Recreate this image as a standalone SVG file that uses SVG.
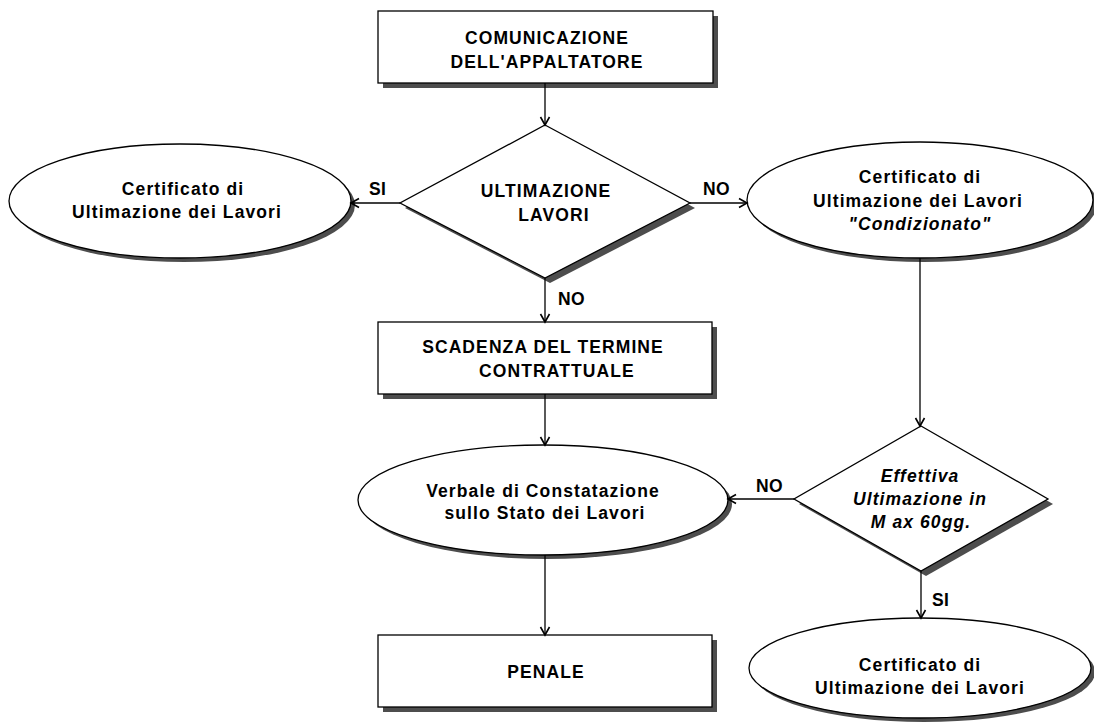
<svg xmlns="http://www.w3.org/2000/svg" width="1094" height="726" viewBox="0 0 1094 726">
  <defs>
    <marker id="arrow" markerWidth="12" markerHeight="12" refX="9" refY="6" orient="auto" markerUnits="userSpaceOnUse">
      <path d="M1,1.5 L9,6 L1,10.5" fill="none" stroke="#000" stroke-width="1.6"/>
    </marker>
  </defs>
  <style>
    .shape { fill: #fff; stroke: #000; stroke-width: 1.3; }
    .shadow { fill: #4d4d4d; stroke: none; }
    .conn { fill: none; stroke: #000; stroke-width: 1.3; marker-end: url(#arrow); }
    text { font-family: "Liberation Sans", Arial, sans-serif; font-size: 17.5px; font-weight: bold; fill: #000; letter-spacing: 1.1px; text-anchor: middle; }
    .it { font-style: italic; }
    .lbl { text-anchor: start; letter-spacing: 0.3px; }
  </style>

  <rect width="1094" height="726" fill="#fff"/>

  <!-- start box -->
  <g id="comunicazione">
    <rect class="shadow" x="383" y="16" width="335" height="72"/>
    <rect class="shape" x="378" y="11" width="335" height="72"/>
    <text x="547" y="44">COMUNICAZIONE</text>
    <text x="547" y="68">DELL'APPALTATORE</text>
  </g>

  <!-- first decision -->
  <g id="ultimazione">
    <polygon class="shadow" points="550,130 695,208 550,283 405,208"/>
    <polygon class="shape" points="545,125 690,203 545,278 400,203"/>
    <text x="546" y="197">ULTIMAZIONE</text>
    <text x="554" y="221">LAVORI</text>
  </g>

  <!-- left result -->
  <g id="certificato-si">
    <ellipse class="shadow" cx="184" cy="205" rx="171" ry="57"/>
    <ellipse class="shape" cx="180" cy="201" rx="171" ry="57"/>
    <text x="183" y="195">Certificato di</text>
    <text x="177" y="218">Ultimazione dei Lavori</text>
  </g>

  <!-- conditional certificate -->
  <g id="certificato-condizionato">
    <ellipse class="shadow" cx="924" cy="204" rx="173" ry="58"/>
    <ellipse class="shape" cx="920" cy="200" rx="173" ry="58"/>
    <text x="920" y="183">Certificato di</text>
    <text x="918" y="207">Ultimazione dei Lavori</text>
    <text class="it" x="920" y="230">"Condizionato"</text>
  </g>

  <!-- contractual deadline -->
  <g id="scadenza">
    <rect class="shadow" x="383" y="327" width="334" height="72"/>
    <rect class="shape" x="378" y="322" width="334" height="72"/>
    <text x="543" y="353">SCADENZA DEL TERMINE</text>
    <text x="557" y="377">CONTRATTUALE</text>
  </g>

  <!-- report -->
  <g id="verbale">
    <ellipse class="shadow" cx="547" cy="504" rx="185" ry="55"/>
    <ellipse class="shape" cx="543" cy="500" rx="185" ry="55"/>
    <text x="543" y="497">Verbale di Constatazione</text>
    <text x="545" y="519">sullo Stato dei Lavori</text>
  </g>

  <!-- second decision -->
  <g id="effettiva">
    <polygon class="shadow" points="926,431 1053,504 926,576 799,504"/>
    <polygon class="shape" points="921,426 1048,499 921,571 794,499"/>
    <text class="it" x="920" y="482">Effettiva</text>
    <text class="it" x="920" y="505">Ultimazione in</text>
    <text class="it" x="921" y="528">M ax 60gg.</text>
  </g>

  <!-- penalty -->
  <g id="penale">
    <rect class="shadow" x="383" y="640" width="334" height="72"/>
    <rect class="shape" x="378" y="635" width="334" height="72"/>
    <text x="546" y="678">PENALE</text>
  </g>

  <!-- final certificate -->
  <g id="certificato-finale">
    <ellipse class="shadow" cx="924" cy="672" rx="171" ry="50"/>
    <ellipse class="shape" cx="920" cy="668" rx="171" ry="50"/>
    <text x="920" y="671">Certificato di</text>
    <text x="920" y="694">Ultimazione dei Lavori</text>
  </g>

  <!-- connectors -->
  <g id="connectors">
    <line class="conn" x1="545" y1="83" x2="545" y2="125"/>
    <line class="conn" x1="400" y1="203" x2="351" y2="203"/>
    <line class="conn" x1="690" y1="203" x2="747" y2="203"/>
    <line class="conn" x1="545" y1="278" x2="545" y2="322"/>
    <line class="conn" x1="545" y1="394" x2="545" y2="445"/>
    <line class="conn" x1="920" y1="258" x2="920" y2="426"/>
    <line class="conn" x1="794" y1="499" x2="728" y2="499"/>
    <line class="conn" x1="921" y1="571" x2="921" y2="618"/>
    <line class="conn" x1="545" y1="555" x2="545" y2="635"/>
    <text class="lbl" x="369" y="195">SI</text>
    <text class="lbl" x="703" y="195">NO</text>
    <text class="lbl" x="558" y="305">NO</text>
    <text class="lbl" x="756" y="492">NO</text>
    <text class="lbl" x="932" y="606">SI</text>
  </g>
</svg>
